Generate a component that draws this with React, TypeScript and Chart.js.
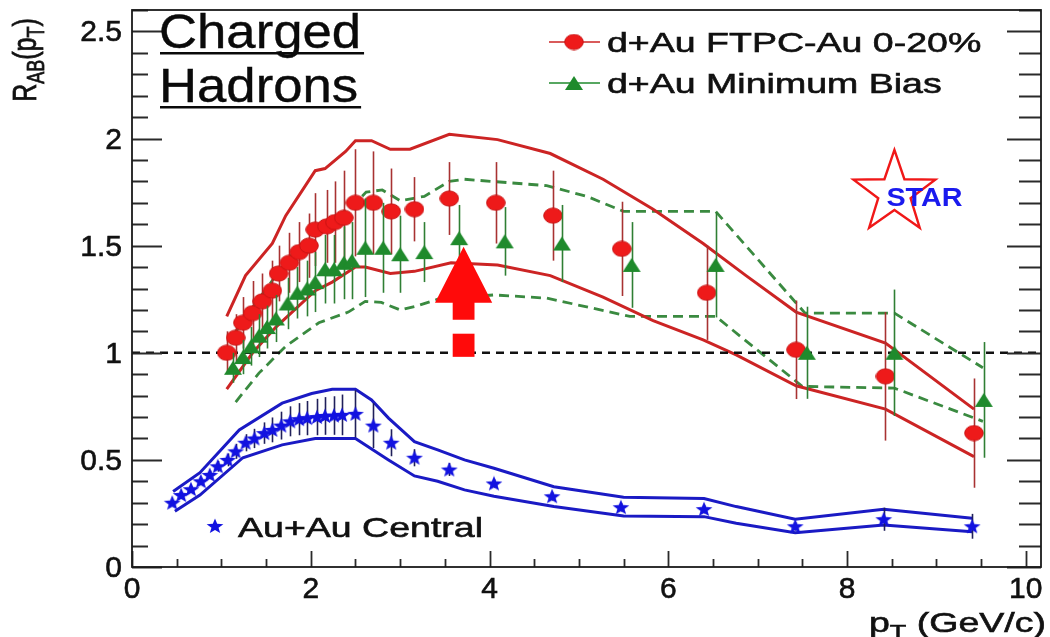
import React, { useEffect, useRef } from "react";
import { Chart, registerables } from "chart.js";

Chart.register(...registerables);

const FONT = '"Liberation Sans", Arial, Helvetica, sans-serif';
const SX = 1.34; // horizontal stretch of the legend / title lettering

// ---- axes ----
const X_MIN = 0;
const X_MAX = 10.17;
const Y_MIN = 0;
const Y_MAX = 2.6;
const xTickValues = [0, 2, 4, 6, 8, 10];
const xTickLabels = ["0", "2", "4", "6", "8", "10"];
const yTickValues = [0, 0.5, 1, 1.5, 2, 2.5];
const yTickLabels = ["0", "0.5", "1", "1.5", "2", "2.5"];

// ---- d+Au FTPC-Au 0-20% ----
const ftpcPt = [1.06, 1.16, 1.24, 1.35, 1.46, 1.57, 1.64, 1.76, 1.87, 1.98, 2.05, 2.18, 2.27, 2.37, 2.5, 2.7, 2.9, 3.16, 3.55, 4.07, 4.71, 5.48, 6.43, 7.43, 8.43, 9.42];
const ftpcR = [1.0, 1.07, 1.14, 1.185, 1.24, 1.29, 1.37, 1.42, 1.47, 1.5, 1.575, 1.59, 1.61, 1.63, 1.7, 1.7, 1.66, 1.67, 1.72, 1.7, 1.64, 1.485, 1.28, 1.014, 0.89, 0.625];
const ftpcErr = [0.1, 0.11, 0.12, 0.15, 0.13, 0.14, 0.13, 0.14, 0.14, 0.15, 0.17, 0.17, 0.19, 0.22, 0.25, 0.24, 0.2, 0.15, 0.17, 0.19, 0.21, 0.22, 0.22, 0.23, 0.3, 0.255];
const ftpcSysHiPt = [1.06, 1.27, 1.57, 1.72, 2.05, 2.16, 2.39, 2.5, 2.68, 2.89, 3.11, 3.55, 4.09, 4.68, 5.27, 5.83, 6.39, 6.87, 7.43, 8.43, 9.42];
const ftpcSysHiR = [1.17, 1.36, 1.51, 1.64, 1.85, 1.86, 1.94, 1.99, 1.99, 1.95, 1.95, 2.02, 1.995, 1.93, 1.81, 1.67, 1.51, 1.36, 1.19, 1.045, 0.737];
const ftpcSysLoPt = [1.06, 1.35, 1.61, 2.05, 2.24, 2.5, 2.61, 2.89, 3.16, 3.57, 4.09, 4.68, 5.27, 5.83, 6.39, 6.76, 7.43, 8.43, 9.42];
const ftpcSysLoR = [0.83, 1.0, 1.12, 1.29, 1.33, 1.4, 1.4, 1.37, 1.38, 1.42, 1.41, 1.36, 1.26, 1.15, 1.06, 0.99, 0.846, 0.737, 0.515];

// ---- d+Au Minimum Bias ----
const mbPt = [1.13, 1.24, 1.33, 1.42, 1.51, 1.61, 1.74, 1.85, 1.96, 2.05, 2.16, 2.26, 2.37, 2.46, 2.61, 2.81, 3.0, 3.27, 3.66, 4.17, 4.81, 5.59, 6.53, 7.55, 8.53, 9.53];
const mbR = [0.93, 0.98, 1.03, 1.08, 1.12, 1.16, 1.23, 1.28, 1.3, 1.33, 1.39, 1.39, 1.42, 1.43, 1.49, 1.49, 1.46, 1.47, 1.535, 1.52, 1.51, 1.41, 1.41, 1.0, 1.0, 0.78];
const mbErr = [0.07, 0.08, 0.09, 0.1, 0.1, 0.11, 0.12, 0.12, 0.13, 0.14, 0.16, 0.16, 0.17, 0.18, 0.23, 0.21, 0.18, 0.14, 0.155, 0.16, 0.18, 0.2, 0.245, 0.215, 0.295, 0.27];
const mbSysHiPt = [1.13, 1.33, 1.61, 1.85, 2.05, 2.26, 2.46, 2.62, 2.8, 3.0, 3.27, 3.55, 3.72, 4.64, 5.09, 5.5, 6.53, 7.53, 8.53, 9.52];
const mbSysHiR = [1.08, 1.2, 1.36, 1.49, 1.56, 1.63, 1.68, 1.75, 1.76, 1.71, 1.73, 1.8, 1.81, 1.78, 1.73, 1.66, 1.66, 1.185, 1.185, 0.93];
const mbSysLoPt = [1.16, 1.42, 1.72, 2.09, 2.42, 2.61, 2.79, 3.0, 3.2, 3.42, 4.05, 4.64, 5.57, 6.53, 7.5, 8.53, 9.52];
const mbSysLoR = [0.77, 0.905, 1.03, 1.14, 1.19, 1.24, 1.235, 1.2, 1.22, 1.25, 1.27, 1.255, 1.17, 1.17, 0.843, 0.835, 0.68];

// ---- Au+Au Central ----
const auPt = [0.45, 0.55, 0.66, 0.77, 0.87, 0.96, 1.07, 1.16, 1.27, 1.37, 1.48, 1.57, 1.67, 1.77, 1.87, 1.96, 2.07, 2.16, 2.26, 2.35, 2.5, 2.7, 2.9, 3.16, 3.55, 4.05, 4.7, 5.47, 6.4, 7.42, 8.41, 9.4];
const auR = [0.3, 0.336, 0.363, 0.4, 0.43, 0.47, 0.5, 0.54, 0.58, 0.6, 0.625, 0.64, 0.66, 0.68, 0.69, 0.695, 0.7, 0.705, 0.707, 0.71, 0.715, 0.66, 0.58, 0.51, 0.455, 0.39, 0.33, 0.279, 0.27, 0.19, 0.223, 0.19];
const auErr = [0.01, 0.012, 0.014, 0.016, 0.02, 0.025, 0.03, 0.035, 0.04, 0.045, 0.05, 0.058, 0.065, 0.07, 0.075, 0.08, 0.085, 0.088, 0.09, 0.095, 0.11, 0.105, 0.063, 0.04, 0.03, 0.02, 0.02, 0.02, 0.02, 0.02, 0.054, 0.058];
const auSysHiPt = [0.46, 0.76, 1.2, 1.68, 2.01, 2.24, 2.5, 2.68, 2.87, 3.16, 3.42, 3.72, 4.05, 4.72, 5.5, 6.4, 6.76, 7.42, 8.41, 9.4];
const auSysHiR = [0.352, 0.44, 0.64, 0.765, 0.81, 0.83, 0.83, 0.78, 0.695, 0.585, 0.547, 0.5, 0.461, 0.375, 0.326, 0.32, 0.282, 0.223, 0.27, 0.228];
const auSysLoPt = [0.48, 0.76, 1.24, 1.68, 2.05, 2.5, 2.87, 3.16, 3.42, 3.72, 4.05, 4.72, 5.5, 6.4, 6.76, 7.42, 8.41, 9.4];
const auSysLoR = [0.26, 0.336, 0.51, 0.57, 0.6, 0.6, 0.5, 0.425, 0.4, 0.36, 0.33, 0.282, 0.238, 0.235, 0.204, 0.16, 0.196, 0.165];

// ---- reference line ----
const unityR = 1;

// ---- colours ----
const RED_MARK = "#ee1a1a";
const RED_LINE = "#cc2424";
const RED_ERR = "#a83232";
const GREEN_MARK = "#1f8a2c";
const GREEN_LINE = "#3a8a40";
const GREEN_ERR = "#2f7f34";
const BLUE_MARK = "#1212e0";
const BLUE_LINE = "#1a1ac4";
const BLUE_ERR = "#20205a";

const pts = (xs: number[], ys: number[]) => xs.map((x, i) => ({ x, y: ys[i] }));

function markerCanvas(w: number, h: number, draw: (c: CanvasRenderingContext2D) => void) {
  const c = document.createElement("canvas");
  c.width = w;
  c.height = h;
  const ctx = c.getContext("2d")!;
  draw(ctx);
  return c;
}

function starPath(ctx: CanvasRenderingContext2D, cx: number, cy: number, ro: number, ri: number, sx: number) {
  ctx.beginPath();
  for (let k = 0; k < 10; k++) {
    const a = -Math.PI / 2 + (k * Math.PI) / 5;
    const r = k % 2 ? ri : ro;
    const px = cx + r * Math.cos(a) * sx;
    const py = cy + r * Math.sin(a);
    if (k === 0) ctx.moveTo(px, py);
    else ctx.lineTo(px, py);
  }
  ctx.closePath();
}

const circleMark = markerCanvas(20, 17, (c) => {
  c.beginPath();
  c.ellipse(10, 8.5, 9.3, 7.6, 0, 0, Math.PI * 2);
  c.fillStyle = RED_MARK;
  c.fill();
  c.lineWidth = 1;
  c.strokeStyle = "#c81414";
  c.stroke();
});

const triMark = markerCanvas(20, 16, (c) => {
  c.beginPath();
  c.moveTo(10, 1);
  c.lineTo(19, 15);
  c.lineTo(1, 15);
  c.closePath();
  c.fillStyle = GREEN_MARK;
  c.fill();
});

const starMark = markerCanvas(18, 16, (c) => {
  starPath(c, 9, 8.6, 8, 3.4, 1.1);
  c.fillStyle = BLUE_MARK;
  c.fill();
});

type Part = { t: string; sub?: boolean };

function drawRich(ctx: CanvasRenderingContext2D, parts: Part[], size: number, align: "left" | "right" | "center", color: string) {
  const subSize = size * 0.72;
  const widths = parts.map((p) => {
    ctx.font = `${p.sub ? subSize : size}px ${FONT}`;
    return ctx.measureText(p.t).width;
  });
  const total = widths.reduce((a, b) => a + b, 0);
  let x = align === "left" ? 0 : align === "right" ? -total : -total / 2;
  ctx.fillStyle = color;
  ctx.strokeStyle = color;
  ctx.lineWidth = 0.6;
  ctx.textAlign = "left";
  ctx.textBaseline = "alphabetic";
  parts.forEach((p, i) => {
    ctx.font = `${p.sub ? subSize : size}px ${FONT}`;
    const yy = p.sub ? size * 0.24 : 0;
    ctx.fillText(p.t, x, yy);
    ctx.strokeText(p.t, x, yy);
    x += widths[i];
  });
}

function sText(
  ctx: CanvasRenderingContext2D,
  text: string,
  x: number,
  y: number,
  size: number,
  opts: { align?: CanvasTextAlign; color?: string; weight?: string; sx?: number; thicken?: number } = {}
) {
  ctx.save();
  ctx.translate(x, y);
  ctx.scale(opts.sx ?? SX, 1);
  ctx.font = `${opts.weight ?? "normal"} ${size}px ${FONT}`;
  ctx.textAlign = opts.align ?? "left";
  ctx.textBaseline = "alphabetic";
  const color = opts.color ?? "#111";
  ctx.fillStyle = color;
  ctx.fillText(text, 0, 0);
  const th = opts.thicken ?? 0.6;
  if (th > 0) {
    ctx.strokeStyle = color;
    ctx.lineWidth = th;
    ctx.strokeText(text, 0, 0);
  }
  ctx.restore();
}

const errorSets: Record<string, { xs: number[]; ys: number[]; es: number[]; color: string }> = {
  ftpc: { xs: ftpcPt, ys: ftpcR, es: ftpcErr, color: RED_ERR },
  mb: { xs: mbPt, ys: mbR, es: mbErr, color: GREEN_ERR },
  au: { xs: auPt, ys: auR, es: auErr, color: BLUE_ERR },
};

// arrow and block drawn over the minimum-bias points (data units)
const arrowSpec = { x: 3.71, tip: 1.495, base: 1.234, halfHead: 0.32, halfShaft: 0.122, shaftEnd: 1.154, boxTop: 1.089, boxBottom: 0.981 };
const logoAt = { x: 8.53, y: 1.76 };

const rootStyle = {
  id: "rootStyle",
  beforeDatasetDraw(chart: any, args: any) {
    const ds = chart.data.datasets[args.index];
    const set = errorSets[ds.label];
    if (!set) return;
    const { ctx } = chart;
    const xs = chart.scales.x;
    const ys = chart.scales.y;
    ctx.save();
    ctx.strokeStyle = set.color;
    ctx.lineWidth = 1.6;
    set.xs.forEach((x: number, i: number) => {
      const px = Math.round(xs.getPixelForValue(x)) + 0.5;
      ctx.beginPath();
      ctx.moveTo(px, ys.getPixelForValue(set.ys[i] + set.es[i]));
      ctx.lineTo(px, ys.getPixelForValue(set.ys[i] - set.es[i]));
      ctx.stroke();
    });
    ctx.restore();
  },
  afterDatasetsDraw(chart: any) {
    const { ctx } = chart;
    const xs = chart.scales.x;
    const ys = chart.scales.y;
    const X = (v: number) => xs.getPixelForValue(v);
    const Y = (v: number) => ys.getPixelForValue(v);

    // red arrow with the block beneath it
    const a = arrowSpec;
    ctx.save();
    ctx.fillStyle = "#ff0a0a";
    ctx.beginPath();
    ctx.moveTo(X(a.x), Y(a.tip));
    ctx.lineTo(X(a.x + a.halfHead), Y(a.base));
    ctx.lineTo(X(a.x + a.halfShaft), Y(a.base));
    ctx.lineTo(X(a.x + a.halfShaft), Y(a.shaftEnd));
    ctx.lineTo(X(a.x - a.halfShaft), Y(a.shaftEnd));
    ctx.lineTo(X(a.x - a.halfShaft), Y(a.base));
    ctx.lineTo(X(a.x - a.halfHead), Y(a.base));
    ctx.closePath();
    ctx.fill();
    ctx.fillRect(X(a.x - a.halfShaft), Y(a.boxTop), X(a.x + a.halfShaft) - X(a.x - a.halfShaft), Y(a.boxBottom) - Y(a.boxTop));
    ctx.restore();

    // STAR logo
    const lx = X(logoAt.x);
    const ly = Y(logoAt.y);
    ctx.save();
    starPath(ctx, lx, ly + 3, 43, 17, 1.0);
    ctx.strokeStyle = "#f01818";
    ctx.lineWidth = 2.4;
    ctx.stroke();
    ctx.restore();
    sText(ctx, "STAR", lx - 8, ly + 16, 25, { weight: "bold", color: "#1a1aee", sx: 1.15, thicken: 0 });
  },
  afterDraw(chart: any) {
    const { ctx, chartArea: ca } = chart;
    const xs = chart.scales.x;
    const ys = chart.scales.y;
    ctx.save();
    // ticks
    ctx.strokeStyle = "#2a2a2a";
    ctx.lineWidth = 1.8;
    for (let i = 0; i <= 26; i++) {
      const v = i / 10;
      const major = i % 5 === 0;
      const py = Math.round(ys.getPixelForValue(v)) + 0.5;
      ctx.beginPath();
      ctx.moveTo(ca.left, py);
      ctx.lineTo(ca.left + (major ? 30 : 16), py);
      ctx.moveTo(ca.right, py);
      ctx.lineTo(ca.right - (major ? 34 : 22), py);
      ctx.stroke();
    }
    for (let i = 0; i <= 20; i++) {
      const v = i * 0.5;
      const major = i % 4 === 0;
      const px = Math.round(xs.getPixelForValue(v)) + 0.5;
      ctx.beginPath();
      ctx.moveTo(px, ca.bottom);
      ctx.lineTo(px, ca.bottom - (major ? 16 : 8));
      ctx.stroke();
    }
    // frame
    ctx.lineWidth = 1.8;
    ctx.strokeStyle = "#1a1a1a";
    ctx.strokeRect(ca.left, ca.top, ca.right - ca.left, ca.bottom - ca.top);
    ctx.restore();

    // tick labels
    yTickValues.forEach((v, i) => {
      sText(ctx, yTickLabels[i], ca.left - 10, ys.getPixelForValue(v) + 10, 30, { align: "right", sx: 1.0 });
    });
    xTickValues.forEach((v, i) => {
      sText(ctx, xTickLabels[i], xs.getPixelForValue(v), ca.bottom + 31, 30, { align: "center", sx: 1.0 });
    });

    // axis titles
    ctx.save();
    ctx.translate(1046, 632);
    ctx.scale(SX, 1);
    drawRich(ctx, [{ t: "p" }, { t: "T", sub: true }, { t: " (GeV/c)" }], 28, "right", "#111");
    ctx.restore();

    ctx.save();
    ctx.translate(36, 60);
    ctx.scale(SX, 1);
    ctx.rotate(-Math.PI / 2);
    drawRich(ctx, [{ t: "R" }, { t: "AB", sub: true }, { t: "(p" }, { t: "T", sub: true }, { t: ")" }], 25, "center", "#111");
    ctx.restore();

    // legend, top right
    const drawEntry = (y: number, mark: HTMLCanvasElement, color: string, text: string) => {
      ctx.save();
      ctx.strokeStyle = color;
      ctx.lineWidth = 1.6;
      ctx.beginPath();
      ctx.moveTo(549, y);
      ctx.lineTo(600, y);
      ctx.stroke();
      ctx.drawImage(mark, 574 - mark.width / 2, y - mark.height / 2);
      ctx.restore();
      sText(ctx, text, 607, y + 10, 28, {});
    };
    drawEntry(42, circleMark, RED_LINE, "d+Au FTPC-Au 0-20%");
    drawEntry(83, triMark, GREEN_MARK, "d+Au Minimum Bias");

    // Au+Au legend entry
    ctx.drawImage(starMark, 215 - starMark.width / 2, 526 - starMark.height / 2);
    sText(ctx, "Au+Au Central", 238, 537, 28, {});

    // underlined heading
    const head = (text: string, base: number) => {
      sText(ctx, text, 159, base, 49, { sx: 1.075, color: "#0a0a0a", thicken: 0.4 });
      ctx.save();
      ctx.font = `49px ${FONT}`;
      const w = ctx.measureText(text).width * 1.075;
      ctx.fillStyle = "#0a0a0a";
      ctx.fillRect(160, base + 4, w + 2, 2.5);
      ctx.restore();
    };
    head("Charged", 48);
    head("Hadrons", 102);
  },
};

export default function App() {
  const ref = useRef<HTMLCanvasElement>(null);

  useEffect(() => {
    const canvas = ref.current!;
    const lineSet = (label: string, data: { x: number; y: number }[], color: string, width: number, dash: number[] = []) => ({
      label,
      data,
      showLine: true,
      borderColor: color,
      borderWidth: width,
      borderDash: dash,
      pointRadius: 0,
      fill: false,
      tension: 0,
      order: 10,
    });
    const markSet = (label: string, data: { x: number; y: number }[], mark: HTMLCanvasElement, order: number) => ({
      label,
      data,
      showLine: false,
      pointStyle: mark,
      pointRadius: 8,
      order,
    });

    const chart = new Chart(canvas, {
      type: "scatter",
      data: {
        datasets: [
          lineSet("unity", [{ x: X_MIN, y: unityR }, { x: X_MAX, y: unityR }], "#111111", 2.4, [8, 6]),
          lineSet("ftpcSysHi", pts(ftpcSysHiPt, ftpcSysHiR), RED_LINE, 3),
          lineSet("ftpcSysLo", pts(ftpcSysLoPt, ftpcSysLoR), RED_LINE, 3),
          lineSet("mbSysHi", pts(mbSysHiPt, mbSysHiR), GREEN_LINE, 2.8, [10, 6]),
          lineSet("mbSysLo", pts(mbSysLoPt, mbSysLoR), GREEN_LINE, 2.8, [10, 6]),
          lineSet("auSysHi", pts(auSysHiPt, auSysHiR), BLUE_LINE, 3),
          lineSet("auSysLo", pts(auSysLoPt, auSysLoR), BLUE_LINE, 3),
          markSet("ftpc", pts(ftpcPt, ftpcR), circleMark, 3),
          markSet("mb", pts(mbPt, mbR), triMark, 2),
          markSet("au", pts(auPt, auR), starMark, 1),
        ] as any,
      },
      options: {
        responsive: false,
        animation: false,
        events: [],
        layout: { padding: { left: 132, right: 4, top: 10, bottom: 70 } },
        scales: {
          x: { type: "linear", min: X_MIN, max: X_MAX, display: false },
          y: { type: "linear", min: Y_MIN, max: Y_MAX, display: false },
        },
        plugins: { legend: { display: false }, tooltip: { enabled: false } },
      },
      plugins: [rootStyle as any],
    });
    return () => chart.destroy();
  }, []);

  return (
    <div style={{ position: "absolute", left: 0, top: 0, width: 1050, height: 637, background: "#ffffff" }}>
      <canvas ref={ref} width={1050} height={637} style={{ display: "block", width: 1050, height: 637 }} />
    </div>
  );
}
